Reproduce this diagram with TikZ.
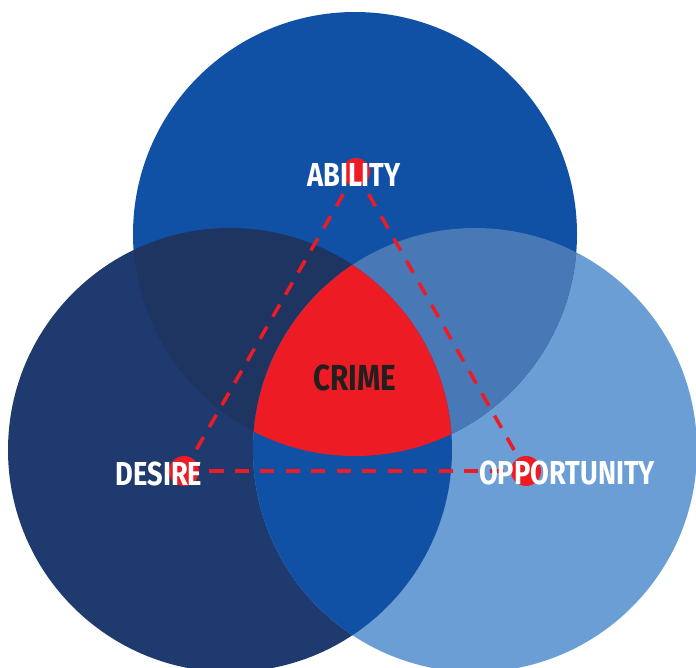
\documentclass[tikz,border=0pt]{standalone}
\usepackage{fontspec}
\newfontfamily\vennfont{Fira Sans}[FakeStretch=0.82]

\definecolor{abilityBlue}{HTML}{1050A5}
\definecolor{desireNavy}{HTML}{1F3A6E}
\definecolor{opportunityBlue}{HTML}{6A9ED4}
\definecolor{abilityDesire}{HTML}{1E3461}
\definecolor{abilityOpportunity}{HTML}{4878B5}
\definecolor{crimeRed}{HTML}{ED1C24}
\definecolor{crimeText}{HTML}{231F20}

\tikzset{
    vennlabel/.style={text=white, inner sep=0pt, font=\vennfont\bfseries\fontsize{18.9}{20}\selectfont},
    crimelabel/.style={text=crimeText, inner sep=0pt, font=\vennfont\bfseries\fontsize{20.6}{22}\selectfont},
    link/.style={crimeRed, line width=2pt, dash pattern=on 8pt off 6.5pt},
}

\begin{document}
\begin{tikzpicture}[x=0.02cm, y=-0.02cm]

    \newcommand{\vennRadius}{222}

    \useasboundingbox (0,0) rectangle (696,667);

    \coordinate (abilityCentre) at (355,234);
    \coordinate (desireCentre) at (230,450);
    \coordinate (opportunityCentre) at (475,450);

    % the three circles
    \fill[desireNavy] (desireCentre) circle (\vennRadius);
    \fill[opportunityBlue] (opportunityCentre) circle (\vennRadius);
    \fill[abilityBlue] (abilityCentre) circle (\vennRadius);

    % overlaps
    \begin{scope}
        \clip (abilityCentre) circle (\vennRadius);
        \fill[abilityDesire] (desireCentre) circle (\vennRadius);
        \fill[abilityOpportunity] (opportunityCentre) circle (\vennRadius);
    \end{scope}
    \begin{scope}
        \clip (desireCentre) circle (\vennRadius);
        \fill[abilityBlue] (opportunityCentre) circle (\vennRadius);
        \clip (opportunityCentre) circle (\vennRadius);
        \fill[crimeRed] (abilityCentre) circle (\vennRadius);
    \end{scope}

    % triangle
    \coordinate (abilityDot) at (356,172);
    \coordinate (desireDot) at (184,471);
    \coordinate (opportunityDot) at (526,471);

    \draw[link] (abilityDot) -- (desireDot);
    \draw[link] (abilityDot) -- (opportunityDot);
    \draw[link] (desireDot) -- (opportunityDot);

    \fill[crimeRed] (abilityDot) circle (14);
    \fill[crimeRed] (desireDot) circle (15);
    \fill[crimeRed] (opportunityDot) circle (15);

    \node[vennlabel] (ability) at (354,175) {ABILITY};
    \node[vennlabel] (desire) at (159,474) {DESIRE};
    \node[vennlabel] (opportunity) at (567,473) {OPPORTUNITY};
    \node[crimelabel] (crime) at (355,378) {CRIME};

\end{tikzpicture}
\end{document}
